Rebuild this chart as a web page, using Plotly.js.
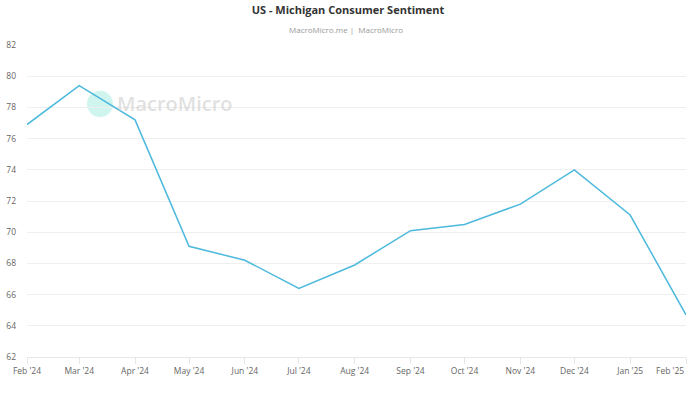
<!DOCTYPE html>
<html>
<head>
<meta charset="utf-8">
<script src="https://cdn.plot.ly/plotly-3.0.1.min.js"></script>
<style>html,body{margin:0;padding:0;background:#fff;}#chart{width:696px;height:394px;}</style>
</head>
<body>
<div id="chart"></div>
<script>
const dates = ['2024-02-01','2024-03-01','2024-04-01','2024-05-01','2024-06-01','2024-07-01','2024-08-01','2024-09-01','2024-10-01','2024-11-01','2024-12-01','2025-01-01','2025-02-01'];
const sentiment = [76.9, 79.4, 77.2, 69.1, 68.2, 66.4, 67.9, 70.1, 70.5, 71.8, 74.0, 71.1, 64.7];
const xLabels = ["Feb '24","Mar '24","Apr '24","May '24","Jun '24","Jul '24","Aug '24","Sep '24","Oct '24","Nov '24","Dec '24","Jan '25","Feb '25"];
const yTicks = [62,64,66,68,70,72,74,76,78,80,82];

const font = '"Open Sans", "Noto Sans", sans-serif';

const trace = {
  x: dates, y: sentiment, type: 'scatter', mode: 'lines',
  line: {color: '#4cb9dd', width: 1.5},
  hoverinfo: 'x+y'
};

const lastIdx = dates.length - 1;

const layout = {
  width: 696, height: 394,
  margin: {l: 27, r: 10, t: 45, b: 37},
  paper_bgcolor: '#fff', plot_bgcolor: '#fff',
  font: {family: font, color: '#666', size: 9},
  showlegend: false,
  title: {text: '<b>US - Michigan Consumer Sentiment</b>', x: 0.5, xanchor: 'center', y: 0.985, yanchor: 'top', font: {family: font, size: 11, color: '#333'}},
  xaxis: {
    type: 'date', range: [dates[0], dates[lastIdx]],
    tickvals: dates, ticktext: xLabels.map((t, i) => i === lastIdx ? '' : t),
    showgrid: false, showline: true, linecolor: '#e6e6e6', linewidth: 1,
    ticks: 'outside', ticklen: 6, tickcolor: '#e6e6e6',
    tickfont: {size: 8.5, color: '#666'}, zeroline: false
  },
  yaxis: {
    range: [62, 82], tickvals: yTicks, ticktext: yTicks.map(String),
    showgrid: true, gridcolor: '#efefef', gridwidth: 1, zeroline: false,
    showline: false, ticks: '', ticklabelstandoff: 10,
    tickfont: {size: 8.5, color: '#666'}
  },
  annotations: [
    {xref: 'paper', yref: 'paper', x: 0.484, y: 1, yshift: 16, xanchor: 'center', yanchor: 'middle', showarrow: false,
     text: 'MacroMicro.me &#124;  MacroMicro', font: {family: font, size: 8, color: '#999'}},
    {xref: 'x', yref: 'paper', x: dates[lastIdx], y: 0, yshift: -13, xanchor: 'right', yanchor: 'middle', showarrow: false,
     text: xLabels[lastIdx], font: {family: font, size: 8.5, color: '#666'}},
    {xref: 'paper', yref: 'paper', x: 0.133, y: 0.811, xanchor: 'left', yanchor: 'middle', showarrow: false,
     text: 'MacroMicro', font: {family: font, size: 20, weight: 600, color: 'rgba(195,195,195,0.5)'}}
  ],
  shapes: [
    {type: 'circle', xref: 'paper', yref: 'paper', x0: 0.091, x1: 0.1305, y0: 0.769, y1: 0.853,
     fillcolor: 'rgba(120,225,205,0.35)', line: {width: 0}, layer: 'below'}
  ]
};

Plotly.newPlot('chart', [trace], layout, {displayModeBar: false, staticPlot: true});
</script>
</body>
</html>
